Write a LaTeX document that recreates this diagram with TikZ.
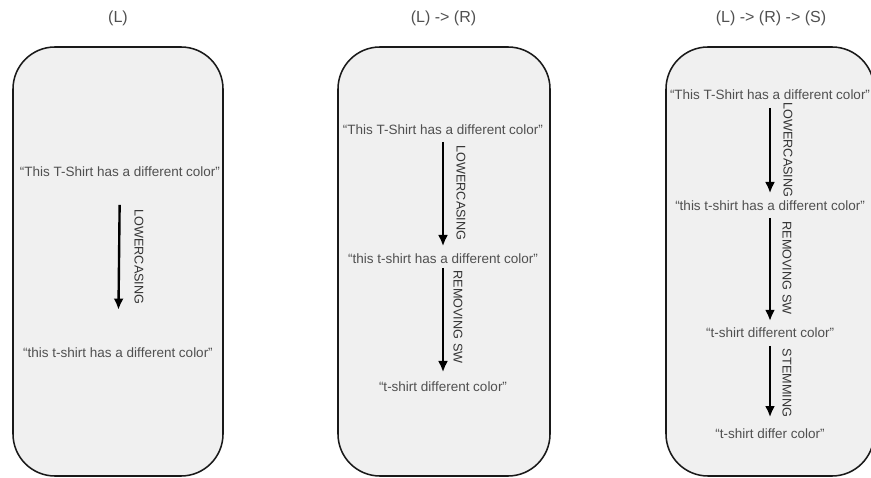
\documentclass[tikz,border=0pt]{standalone}
\usepackage{fontspec}
\setmainfont{Liberation Sans}
\usetikzlibrary{arrows.meta}
\definecolor{boxfill}{HTML}{F0F0F0}
\definecolor{txtgray}{HTML}{505050}
\definecolor{lblgray}{HTML}{333333}
\begin{document}
\begin{tikzpicture}[x=2.5cm,y=2.5cm,
  box/.style={draw=black!90,line width=1.1pt,fill=boxfill,rounded corners=1.05cm},
  title/.style={text=txtgray,inner sep=0pt,font=\fontsize{11.4}{13}\selectfont},
  txt/.style={text=txtgray,inner sep=0pt,font=\fontsize{9.6}{11}\selectfont},
  lbl/.style={text=lblgray,rotate=-90,inner sep=0pt,font=\fontsize{9}{11}\selectfont},
  flow/.style={line width=1.7pt,-{Latex[length=0.28cm,width=0.25cm]}}]
\useasboundingbox (0,0) rectangle (8.71,4.77);
\draw[box] (0.13,0.01) rectangle (2.23,4.30);
\draw[box] (3.38,0.01) rectangle (5.50,4.30);
\draw[box] (6.66,0.01) rectangle (8.74,4.30);
\node[title] (tl) at (1.18,4.59) {(L)};
\node[title] (tr) at (4.435,4.59) {(L) -> (R)};
\node[title] (ts) at (7.71,4.59) {(L) -> (R) -> (S)};
\node[txt] (l1) at (1.20,3.05) {“This T-Shirt has a different color”};
\node[txt] (l2) at (1.18,1.24) {“this t-shirt has a different color”};
\draw[flow,shorten <=0.82cm,shorten >=1.08cm] (l1.center) -- (l2.center);
\node[lbl] (ll1) at (1.39,2.20) {LOWERCASING};
\node[txt] (r1) at (4.43,3.47) {“This T-Shirt has a different color”};
\node[txt] (r2) at (4.43,2.18) {“this t-shirt has a different color”};
\node[txt] (r3) at (4.43,0.90) {“t-shirt different color”};
\draw[flow,shorten <=0.30cm,shorten >=0.32cm] (r1.center) -- (r2.center);
\draw[flow,shorten <=0.22cm,shorten >=0.37cm] (r2.center) -- (r3.center);
\node[lbl] (rl1) at (4.61,2.84) {LOWERCASING};
\node[lbl] (rl2) at (4.58,1.60) {REMOVING SW};
\node[txt] (s1) at (7.70,3.82) {“This T-Shirt has a different color”};
\node[txt] (s2) at (7.70,2.71) {“this t-shirt has a different color”};
\node[txt] (s3) at (7.70,1.44) {“t-shirt different color”};
\node[txt] (s4) at (7.70,0.43) {“t-shirt differ color”};
\draw[flow,shorten <=0.32cm,shorten >=0.32cm] (s1.center) -- (s2.center);
\draw[flow,shorten <=0.30cm,shorten >=0.30cm] (s2.center) -- (s3.center);
\draw[flow,shorten <=0.32cm,shorten >=0.42cm] (s3.center) -- (s4.center);
\node[lbl] (sl1) at (7.88,3.27) {LOWERCASING};
\node[lbl] (sl2) at (7.87,2.09) {REMOVING SW};
\node[lbl] (sl3) at (7.87,0.94) {STEMMING};
\end{tikzpicture}
\end{document}
